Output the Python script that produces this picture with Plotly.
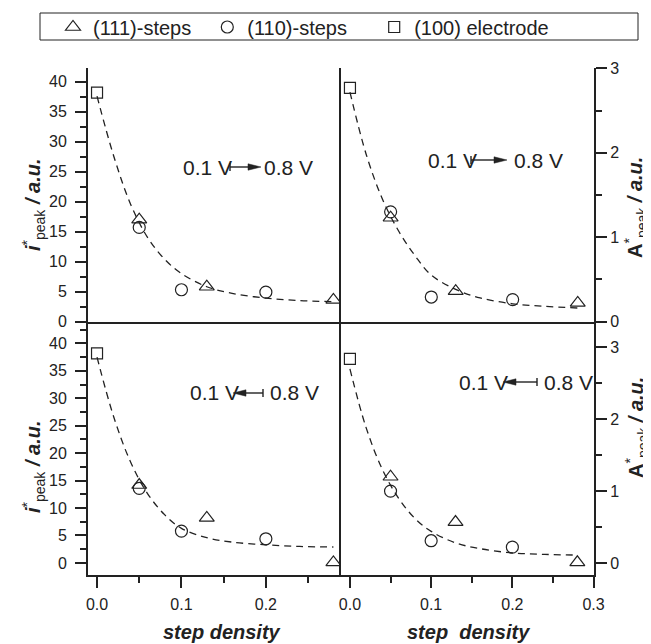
import plotly.graph_objects as go
from plotly.subplots import make_subplots

# step densities of the measured electrodes
x_111 = [0.05, 0.13, 0.28]
x_110 = [0.05, 0.10, 0.20]
x_100 = [0.0]

# peak current i*, scan 0.1 V -> 0.8 V (top left)
i_up_111 = [17.0, 5.8, 3.6]
i_up_110 = [15.7, 5.3, 4.9]
i_up_100 = [38.2]
# peak area A*, scan 0.1 V -> 0.8 V (top right)
a_up_111 = [1.23, 0.36, 0.22]
a_up_110 = [1.30, 0.29, 0.26]
a_up_100 = [2.77]
# peak current i*, scan 0.8 V -> 0.1 V (bottom left)
i_dn_111 = [14.2, 8.2, 0.1]
i_dn_110 = [13.6, 5.8, 4.4]
i_dn_100 = [38.2]
# peak area A*, scan 0.8 V -> 0.1 V (bottom right)
a_dn_111 = [1.20, 0.57, 0.01]
a_dn_110 = [1.00, 0.31, 0.22]
a_dn_100 = [2.84]

# dashed guide curves
fit_x = [0.0, 0.02, 0.04, 0.06, 0.08, 0.10, 0.13, 0.16, 0.20, 0.24, 0.28]
fit_i_up = [37.6, 27.5, 19.5, 14.0, 10.4, 8.0, 5.8, 4.7, 3.9, 3.5, 3.3]
fit_a_up = [2.72, 1.98, 1.45, 1.07, 0.78, 0.55, 0.38, 0.28, 0.21, 0.18, 0.16]
fit_i_dn = [37.5, 26.5, 18.3, 12.6, 8.8, 6.3, 4.6, 3.8, 3.3, 3.0, 2.9]
fit_a_dn = [2.70, 1.88, 1.30, 0.90, 0.62, 0.44, 0.28, 0.20, 0.14, 0.12, 0.11]

INK = "#222222"
FONT = "Liberation Sans, Arial, sans-serif"

# plot area in window pixels; the page body adds an 8px margin
OFF = 8
W, H = 651, 644
L, R, T, B = 88, 594, 68, 575


def px(x):
    return (x - L) / (R - L)


def py(y):
    return (B - y) / (B - T)


fig = make_subplots(rows=2, cols=2, horizontal_spacing=0, vertical_spacing=0)

panels = [
    (1, 1, fit_i_up, i_up_111, i_up_110, i_up_100, True),
    (1, 2, fit_a_up, a_up_111, a_up_110, a_up_100, False),
    (2, 1, fit_i_dn, i_dn_111, i_dn_110, i_dn_100, False),
    (2, 2, fit_a_dn, a_dn_111, a_dn_110, a_dn_100, False),
]

NB = "\u00a0"
for row, col, fit, y111, y110, y100, legend in panels:
    fig.add_trace(go.Scatter(x=fit_x, y=fit, mode="lines", line_shape="spline",
                             line=dict(color=INK, width=1.3, dash="7px,5px"),
                             showlegend=False, hoverinfo="skip"), row=row, col=col)
    for xs, ys, sym, size, name in [
        (x_111, y111, "triangle-up-open", 13, "(111)-steps" + NB * 2),
        (x_110, y110, "circle-open", 12, "(110)-steps" + NB * 4),
        (x_100, y100, "square-open", 11, "(100) electrode"),
    ]:
        fig.add_trace(go.Scatter(x=xs, y=ys, mode="markers", name=name,
                                 marker=dict(symbol=sym, size=size, color=INK,
                                             line=dict(width=1.2)),
                                 showlegend=legend), row=row, col=col)

axis_common = dict(showline=True, linecolor=INK, linewidth=2, showgrid=False,
                   zeroline=False, tickcolor=INK, tickwidth=2, ticklen=11,
                   tickfont=dict(family=FONT, size=16, color=INK))
minor_common = dict(ticks="outside", ticklen=6, tickwidth=2, tickcolor=INK, showgrid=False)

# x axes
fig.update_xaxes(axis_common, range=[-0.0107, 0.289], row=1, col=1,
                 ticks="", showticklabels=False)
fig.update_xaxes(axis_common, range=[-0.011, 0.3], row=1, col=2,
                 ticks="", showticklabels=False)
fig.update_xaxes(axis_common, range=[-0.0107, 0.289], row=2, col=1, ticks="outside",
                 dtick=0.1, tick0=0, tickformat=".1f", ticklabelstandoff=3,
                 minor=dict(minor_common, dtick=0.05))
fig.update_xaxes(axis_common, range=[-0.011, 0.3005], row=2, col=2, ticks="outside",
                 dtick=0.1, tick0=0, tickformat=".1f", ticklabelstandoff=3,
                 minor=dict(minor_common, dtick=0.05))

# y axes
fig.update_yaxes(axis_common, range=[0, 42.3], row=1, col=1, ticks="outside",
                 dtick=5, tick0=0, ticklabelstandoff=5, minor=dict(minor_common, dtick=2.5))
fig.update_yaxes(axis_common, range=[-2.2, 44], row=2, col=1, ticks="outside",
                 dtick=5, tick0=0, ticklabelstandoff=5, minor=dict(minor_common, dtick=2.5))
fig.update_yaxes(axis_common, range=[0, 3.005], row=1, col=2, side="right", mirror=True,
                 ticks="outside", dtick=1, tick0=0, minor=dict(minor_common, dtick=0.5))
fig.update_yaxes(axis_common, range=[-0.167, 3.36], row=2, col=2, side="right", mirror=True,
                 ticks="outside", dtick=1, tick0=0, minor=dict(minor_common, dtick=0.5))

shapes = [dict(type="rect", xref="paper", yref="paper", x0=px(40), x1=px(638),
               y0=py(40), y1=py(13), line=dict(color=INK, width=1))]
annotations = []


def scan_label(x_text1, x_bar, x_tip, x_text2, y):
    # "0.1 V |--> 0.8 V" style label, arrow from bar to tip
    for text, x in [("0.1 V", x_text1), ("0.8 V", x_text2)]:
        annotations.append(dict(text=text, x=px(x), y=py(y), xref="paper", yref="paper",
                                xanchor="left", yanchor="middle", showarrow=False,
                                font=dict(family=FONT, size=21, color=INK)))
    d = 1 if x_tip > x_bar else -1
    base = x_tip - d * 13
    shapes.append(dict(type="line", xref="paper", yref="paper", x0=px(x_bar), x1=px(base),
                       y0=py(y), y1=py(y), line=dict(color=INK, width=1.4)))
    shapes.append(dict(type="line", xref="paper", yref="paper", x0=px(x_bar), x1=px(x_bar),
                       y0=py(y - 4), y1=py(y + 4), line=dict(color=INK, width=1.4)))
    shapes.append(dict(type="path", xref="paper", yref="paper",
                       path=f"M{px(base)},{py(y - 3.2)} L{px(x_tip)},{py(y)} "
                            f"L{px(base)},{py(y + 3.2)} Z",
                       fillcolor=INK, line=dict(color=INK, width=0.5)))


scan_label(181, 230, 261, 262, 167)
scan_label(426, 471, 507, 512, 160)
scan_label(188, 263, 233, 268, 393)
scan_label(457, 537, 503, 542, 382)

title_font = dict(family=FONT, size=20, color=INK)
i_title = "<b><i>i</i></b><sup>*</sup><sub>peak</sub><b><i> / a.u.</i></b>"
a_title = "<b>A</b><sup>*</sup><sub>peak</sub><b><i> / a.u.</i></b>"
for text, x, y in [(i_title, 33, 205), (i_title, 33, 467),
                   (a_title, 636, 208), (a_title, 636, 428)]:
    annotations.append(dict(text=text, x=px(x), y=py(y), xref="paper", yref="paper",
                            textangle=-90, showarrow=False, font=title_font,
                            xanchor="center", yanchor="middle"))

for text, x in [("<b><i>step density</i></b>", 222), ("<b><i>step\u00a0 density</i></b>", 468)]:
    annotations.append(dict(text=text, x=px(x), y=py(632), xref="paper", yref="paper",
                            showarrow=False, font=title_font, xanchor="center", yanchor="middle"))

fig.update_layout(
    width=W, height=H,
    margin=dict(l=L - OFF, r=W - R + OFF, t=T - OFF, b=H - B + OFF),
    paper_bgcolor="white", plot_bgcolor="white",
    font=dict(family=FONT, color=INK),
    showlegend=True,
    # legend placed against the whole figure so it does not push the top margin
    legend=dict(orientation="h", xref="container", yref="container",
                x=(53 - OFF) / W, y=1 - (27 - OFF) / H, xanchor="left", yanchor="middle",
                bgcolor="rgba(0,0,0,0)", borderwidth=0,
                font=dict(family=FONT, size=20, color=INK), itemclick=False),
    shapes=shapes,
    annotations=annotations,
)

fig.write_html("out.html")
